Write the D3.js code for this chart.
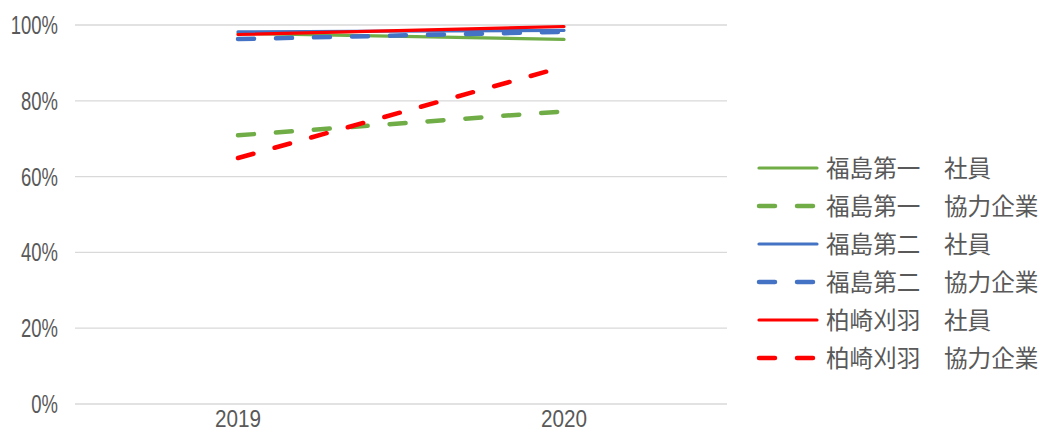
<!DOCTYPE html>
<html>
<head>
<meta charset="utf-8">
<script src="https://cdn.jsdelivr.net/npm/d3@7"></script>
<style>
  body { margin: 0; background: #fff; }
</style>
</head>
<body>
<script>
var years = ["2019", "2020"];

var names = [
    "福島第一　社員",
    "福島第一　協力企業",
    "福島第二　社員",
    "福島第二　協力企業",
    "柏崎刈羽　社員",
    "柏崎刈羽　協力企業"
];

var fukushima1Staff    = [97.8, 96.2];
var fukushima1Partner  = [70.9, 77.2];
var fukushima2Staff    = [98.2, 98.6];
var fukushima2Partner  = [96.3, 98.2];
var kashiwazakiStaff   = [97.5, 99.6];
var kashiwazakiPartner = [64.9, 89.0];

var yTicks = [0, 20, 40, 60, 80, 100];

var colors = ["#70ad47", "#70ad47", "#4472c4", "#4472c4", "#ff0000", "#ff0000"];
var dashed = [false, true, false, true, false, true];

var seriesValues = [fukushima1Staff, fukushima1Partner, fukushima2Staff,
                    fukushima2Partner, kashiwazakiStaff, kashiwazakiPartner];

var series = names.map((n, i) => ({
    name: n,
    color: colors[i],
    dashed: dashed[i],
    values: seriesValues[i].map((v, j) => ({year: years[j], value: v}))
}));

var width  = 1043,
    height = 432;

var plotLeft = 75, plotRight = 727, plotTop = 25, plotBottom = 404;

// the reference digits are tall and narrow, so squeeze a normal font
var numFont = "'Liberation Sans', sans-serif";

const svg = d3.select("body")
    .append("svg")
    .attr("width", width)
    .attr("height", height);

var x = d3.scalePoint()
    .domain(years)
    .range([plotLeft, plotRight])
    .padding(0.5);

var y = d3.scaleLinear()
    .domain([0, 100])
    .range([plotBottom, plotTop]);

// gridlines
svg.append("g")
    .selectAll("line")
    .data(yTicks)
    .join("line")
    .attr("x1", plotLeft)
    .attr("x2", plotRight)
    .attr("y1", d => y(d))
    .attr("y2", d => y(d))
    .style("stroke", "#d9d9d9")
    .style("stroke-width", 1.3);

// y labels
svg.append("g")
    .selectAll("text")
    .data(yTicks)
    .join("text")
    .attr("transform", d => "translate(58," + y(d) + ") scale(0.74,1)")
    .attr("dy", "0.36em")
    .attr("text-anchor", "end")
    .style("font-family", numFont)
    .style("font-size", "25px")
    .style("fill", "#595959")
    .text(d => d + "%");

// x labels
svg.append("g")
    .selectAll("text")
    .data(years)
    .join("text")
    .attr("transform", d => "translate(" + x(d) + ",427) scale(0.9,1)")
    .attr("text-anchor", "middle")
    .style("font-family", numFont)
    .style("font-size", "23px")
    .style("fill", "#595959")
    .text(d => d);

var line = d3.line()
    .x(d => x(d.year))
    .y(d => y(d.value));

svg.append("g")
    .selectAll("path")
    .data(series)
    .join("path")
    .attr("d", d => line(d.values))
    .style("fill", "none")
    .style("stroke", d => d.color)
    .style("stroke-width", d => d.dashed ? 4.5 : 3.2)
    .style("stroke-dasharray", d => d.dashed ? "16,22" : null)
    .style("stroke-linecap", "round");

// legend
var legend = svg.append("g")
    .selectAll("g")
    .data(series)
    .join("g")
    .attr("transform", (d, i) => "translate(0," + (168 + i * 38) + ")");

legend.append("line")
    .attr("x1", 759)
    .attr("x2", 817)
    .attr("y1", 0)
    .attr("y2", 0)
    .style("stroke", d => d.color)
    .style("stroke-width", d => d.dashed ? 4.5 : 3.2)
    .style("stroke-dasharray", d => d.dashed ? "16,22" : null)
    .style("stroke-linecap", "round");

legend.append("text")
    .attr("x", 826)
    .attr("y", 0)
    .attr("dy", "0.36em")
    .style("font-family", "'Noto Sans CJK JP', sans-serif")
    .style("font-size", "23.6px")
    .style("fill", "#595959")
    .text(d => d.name);
</script>
</body>
</html>
